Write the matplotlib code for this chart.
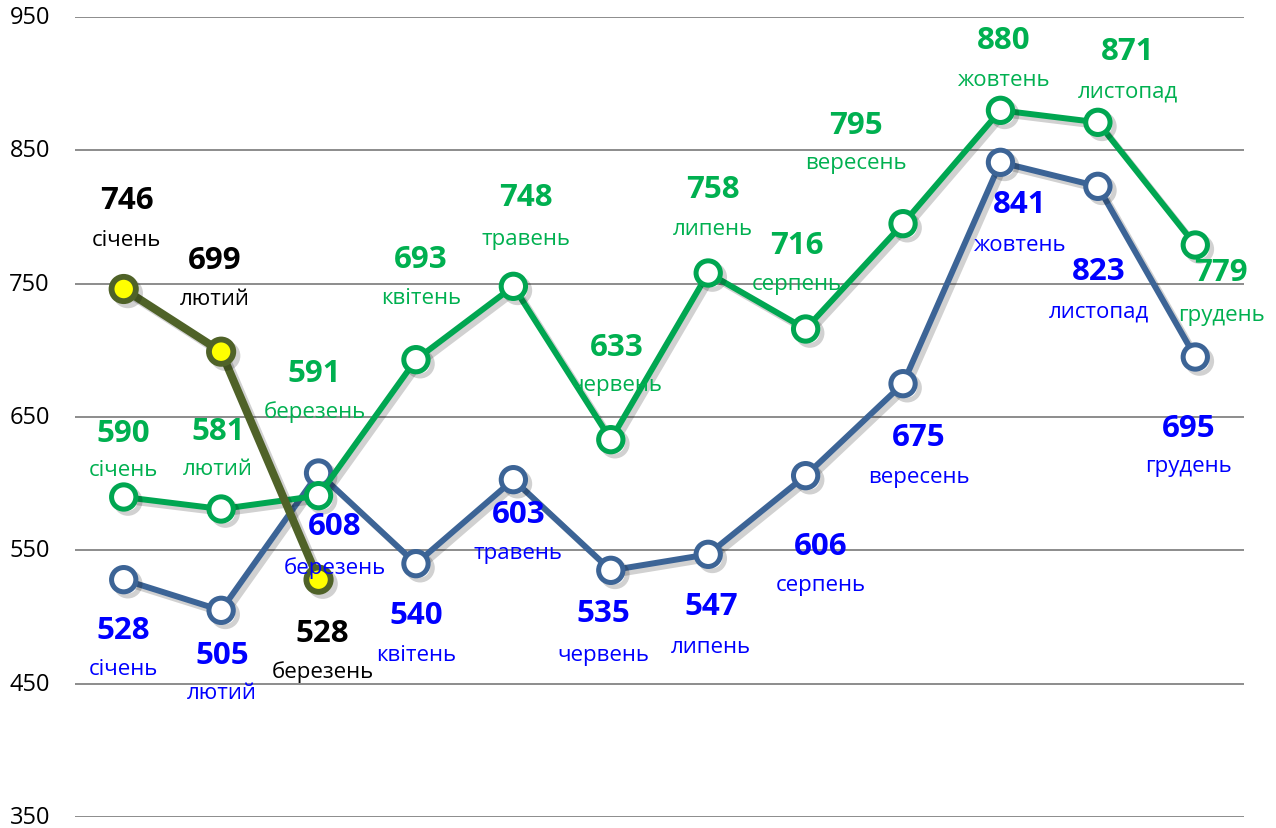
import matplotlib
matplotlib.use("Agg")
import matplotlib.pyplot as plt
import matplotlib.patheffects as pe
import matplotlib.transforms as mtransforms

plt.rcParams['font.family'] = ['Open Sans', 'DejaVu Sans']

months = ["січень", "лютий", "березень", "квітень", "травень", "червень",
          "липень", "серпень", "вересень", "жовтень", "листопад", "грудень"]
green_vals = [590, 581, 591, 693, 748, 633, 758, 716, 795, 880, 871, 779]
blue_vals = [528, 505, 608, 540, 603, 535, 547, 606, 675, 841, 823, 695]
black_vals = [746, 699, 528]
yticks = [350, 450, 550, 650, 750, 850, 950]

# label offsets in pixels: (dx, value dy, month dy), positive dy = up
green_off = [(0, 64, 27), (-3, 78, 40), (-4, 123, 85), (5, 101, 62), (13, 89, 48),
             (6, 93, 55), (5, 84, 44), (-9, 84, 45), (-47, 99, 61), (3, 70, 31),
             (30, 71, 31), (26, -27, -69)]
blue_off = [(0, -50, -89), (1, -45, -82), (16, -53, -94), (0, -51, -91), (5, -34, -73),
            (-7, -43, -84), (3, -52, -92), (15, -70, -109), (16, -53, -93), (19, -42, -82),
            (1, -85, -125), (-7, -71, -109)]
black_off = [(3, 89, 49), (-6, 92, 53), (4, -53, -91)]

fig = plt.figure(figsize=(12.76, 8.29), dpi=100)
ax = fig.add_axes([75/1276, 1-818/829, (1244-75)/1276, (818-18)/829])
ax.set_xlim(-0.5, 11.5)
ax.set_ylim(350, 950)
ax.set_yticks(yticks)
ax.set_xticks([])
for s in ax.spines.values():
    s.set_visible(False)
ax.tick_params(axis='y', length=0, pad=18, labelsize=17, labelcolor='black')
shift = mtransforms.ScaledTranslation(0, 3/100, fig.dpi_scale_trans)
for t in ax.get_yticklabels():
    t.set_verticalalignment('center_baseline')
for tk in ax.yaxis.get_major_ticks():
    tk.label1.set_transform(tk.label1.get_transform() + shift)
ax.yaxis.grid(True, color='#8c8c8c', linewidth=1.4)
ax.set_axisbelow(True)

shadow = [pe.SimpleLineShadow(offset=(3, -3), alpha=0.18, shadow_color='black'),
          pe.Normal()]

def series(vals, line_color, face, lw, mew, offs, label_color, z):
    xs = list(range(len(vals)))
    ax.plot(xs, vals, color=line_color, lw=lw, marker='o', markersize=17.5,
            markerfacecolor=face, markeredgecolor=line_color, markeredgewidth=mew,
            zorder=z, path_effects=shadow, solid_capstyle='round')
    for i, v in enumerate(vals):
        dx, dyv, dym = offs[i]
        ax.annotate(str(v), (i, v), xytext=(dx, dyv), textcoords='offset pixels',
                    ha='center', va='center', fontsize=22.5, fontweight='bold',
                    color=label_color, zorder=10)
        ax.annotate(months[i], (i, v), xytext=(dx, dym), textcoords='offset pixels',
                    ha='center', va='center', fontsize=16, color=label_color, zorder=10)

series(blue_vals, '#3c6496', 'white', 4.3, 3.6, blue_off, '#0000ff', 3)
series(green_vals, '#00a651', 'white', 4.3, 3.6, green_off, '#00b050', 4)
series(black_vals, '#4f6228', '#ffff00', 5.8, 4.2, black_off, 'black', 5)

fig.savefig("out.png", dpi=100)
